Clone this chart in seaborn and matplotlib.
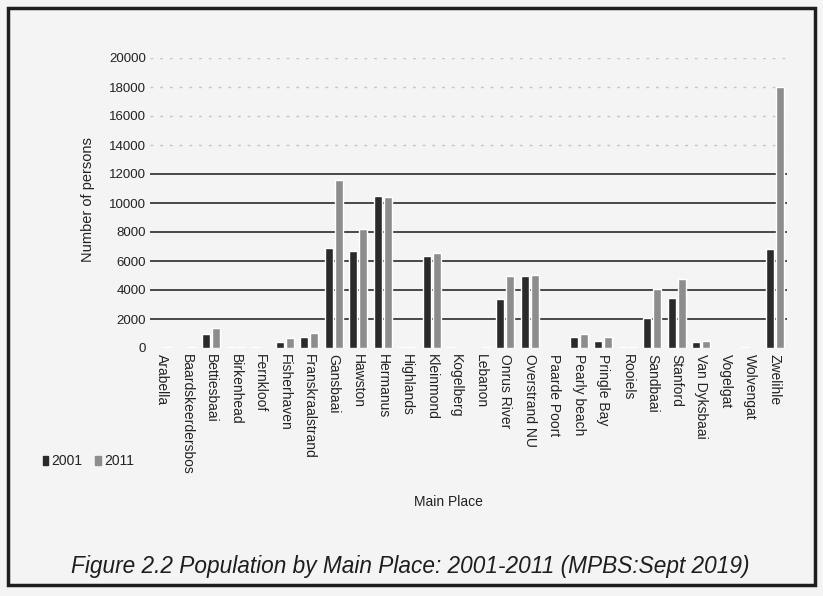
import matplotlib
matplotlib.use("Agg")
import matplotlib.pyplot as plt
import seaborn as sns
import pandas as pd
from matplotlib.patches import Rectangle

# Population by main place, census 2001 and 2011
places = [
    "Arabella", "Baardskeerdersbos", "Bettiesbaai", "Birkenhead", "Fernkloof",
    "Fisherhaven", "Franskraalstrand", "Gansbaai", "Hawston", "Hermanus",
    "Highlands", "Kleinmond", "Kogelberg", "Lebanon", "Onrus River",
    "Overstrand NU", "Paarde Poort", "Pearly beach", "Pringle Bay", "Rooiels",
    "Sandbaai", "Stanford", "Van Dyksbaai", "Vogelgat", "Wolvengat", "Zwelihle",
]
pop_2001 = [0, 0, 950, 100, 60, 440, 790, 6900, 6700, 10500,
            100, 6350, 80, 0, 3400, 5000, 0, 750, 500, 100,
            2050, 3450, 400, 0, 50, 6800]
pop_2011 = [100, 80, 1400, 100, 0, 670, 1040, 11600, 8200, 10400,
            100, 6550, 0, 50, 5000, 5050, 0, 950, 750, 100,
            4050, 4750, 450, 0, 0, 18000]
years = ["2001", "2011"]
y_ticks = list(range(0, 20001, 2000))

df = pd.DataFrame({
    "Main Place": places * 2,
    "Year": [years[0]] * len(places) + [years[1]] * len(places),
    "Persons": pop_2001 + pop_2011,
})

sns.set_theme(style="white")
plt.rcParams["font.family"] = ["Liberation Sans", "DejaVu Sans"]

W, H = 823, 596
fig = plt.figure(figsize=(W / 100, H / 100), dpi=100, facecolor="#f4f4f4")
ax = fig.add_axes([150 / W, 1 - 348 / H, 637 / W, 290 / H])
ax.set_facecolor("none")

palette = {"2001": "#2a2a2a", "2011": "#8d8d8d"}
sns.barplot(data=df, x="Main Place", y="Persons", hue="Year", order=places,
            hue_order=years, palette=palette, width=0.8, gap=0.2,
            saturation=1, ax=ax, legend=False, zorder=3)

# Gridlines: solid for the lower band, faint dotted above
for v in y_ticks[1:]:
    if v <= 12000:
        ax.axhline(v, color="#3a3a3a", lw=1.3, zorder=1)
    else:
        ax.axhline(v, color="#c4c4c4", lw=1.0, ls=(0, (2, 5)), zorder=1)

ax.set_ylim(0, 20000)
ax.set_xlim(-0.5, len(places) - 0.5)
ax.set_yticks(y_ticks)
ax.set_yticklabels([str(v) for v in y_ticks])
ax.tick_params(axis="y", length=0, pad=3, labelsize=9.5, labelcolor="#222222")
ax.tick_params(axis="x", length=0, pad=4, labelsize=10, labelcolor="#222222")
for lab in ax.get_xticklabels():
    lab.set_rotation(-90)
    lab.set_ha("center")
    lab.set_va("top")
ax.set_xlabel("")
ax.set_ylabel("")
for s in ax.spines.values():
    s.set_visible(False)

fig.text(88 / W, 1 - 200 / H, "Number of persons", rotation=90,
         ha="center", va="center", fontsize=10.5, color="#222222")
fig.text(448 / W, 1 - 502 / H, "Main Place", ha="center", va="center",
         fontsize=10, color="#222222")
fig.text(410 / W, 1 - 566 / H,
         "Figure 2.2 Population by Main Place: 2001-2011 (MPBS:Sept 2019)",
         ha="center", va="center", fontsize=16.3, style="italic",
         color="#1e1e1e")

# Legend for the two census years
handles = [Rectangle((0, 0), 1, 1, color=palette[y]) for y in years]
fig.legend(handles, years, loc="center left", bbox_to_anchor=(30 / W, 1 - 461 / H),
           ncol=2, frameon=False, handlelength=0.4, handleheight=0.6,
           handletextpad=0.25, columnspacing=0.9, fontsize=10,
           labelcolor="#222222")

# Page frame around the figure
fig.patches.append(Rectangle((8 / W, 1 - 585 / H), 807 / W, 577 / H,
                             transform=fig.transFigure, fill=False,
                             edgecolor="#1e1e1e", lw=2.5))

fig.savefig("out.png", dpi=100, facecolor=fig.get_facecolor())
